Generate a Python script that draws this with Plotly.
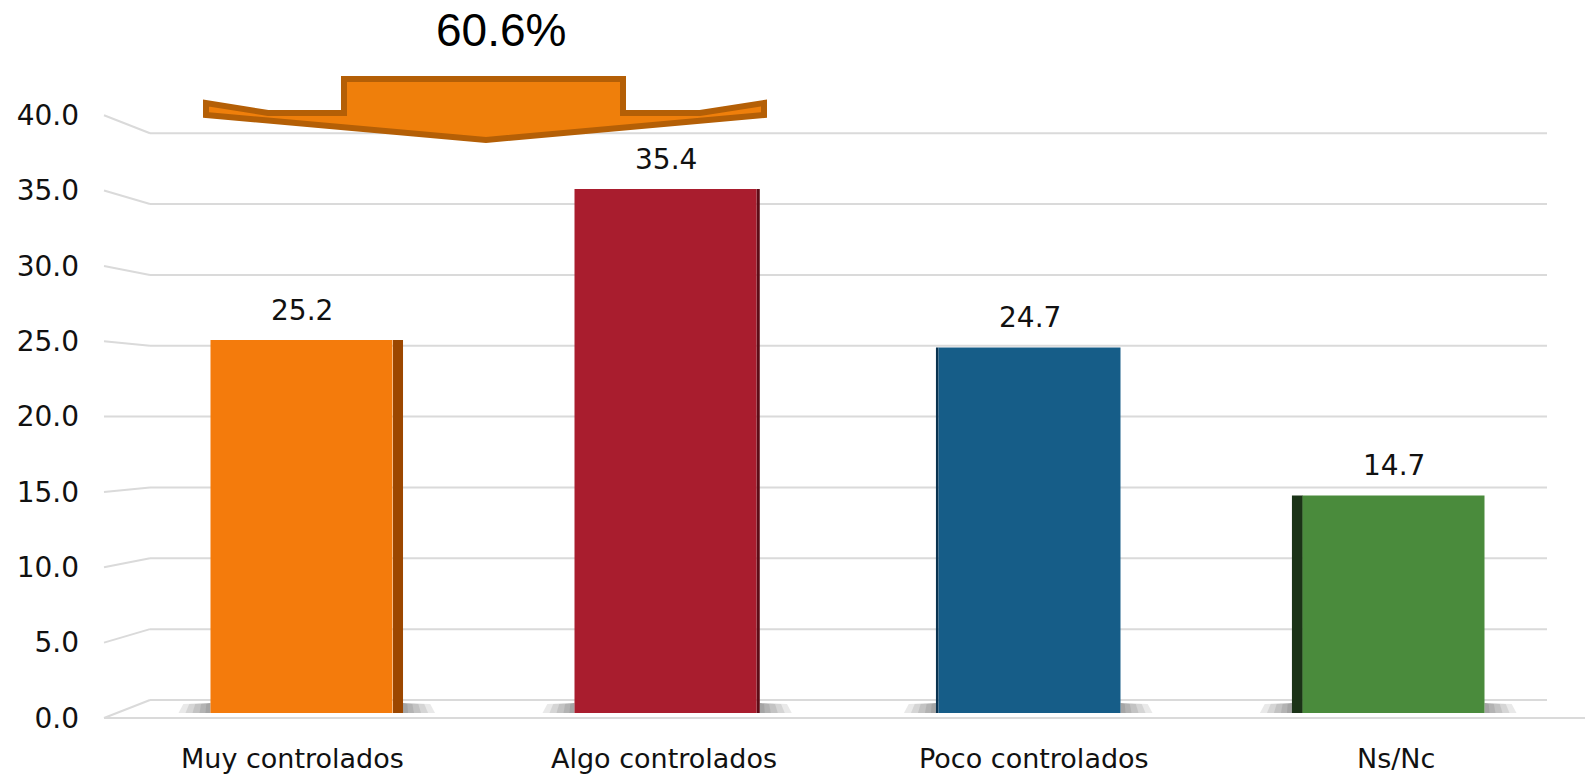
import plotly.graph_objects as go

# ---------------- data ----------------
categories = ["Muy controlados", "Algo controlados", "Poco controlados", "Ns/Nc"]
values = [25.2, 35.4, 24.7, 14.7]
y_ticks = [0, 5, 10, 15, 20, 25, 30, 35, 40]
total_label = "60.6%"

# ---------------- styles ----------------
face_colors = ["#F47B0C", "#A91D2E", "#165D88", "#4A8B3C"]
side_colors = ["#9C4700", "#5E0C16", "#0A3350", "#1B3317"]
side_offsets = [0.2514, 0.25, -0.257, -0.279]
side_widths = [0.0275, 0.009, 0.007, 0.030]
label_shift = [-9, -2, 4, 2]          # perspective shift of category labels (px)
GRID = "#DADADA"
FONT = "DejaVu Sans"

W, H = 1585, 775
UNIT_PX = 364.0   # pixels per category step


def px(x):
    return x / W


def py(y):
    return 1 - y / H


def axis_range(zero_px, ppu):
    r0 = -(H - zero_px) / ppu
    return [r0, r0 + H / ppu]


BAR_SCALE = (713, 14.8)     # baseline pixel, pixels per unit (bars)
BACK_SCALE = (700, 14.17)   # back wall gridlines
FRONT_SCALE = (718, 15.07)  # front edge / tick labels


def front_px(v):
    return FRONT_SCALE[0] - v * FRONT_SCALE[1]


def back_px(v):
    return BACK_SCALE[0] - v * BACK_SCALE[1]


fig = go.Figure()

# side faces (3D look)
fig.add_trace(go.Bar(
    x=categories, y=values, width=side_widths, offset=side_offsets,
    marker=dict(color=side_colors, line=dict(width=0)),
    hoverinfo="skip", showlegend=False,
))
# front faces
fig.add_trace(go.Bar(
    x=categories, y=values, width=0.5,
    marker=dict(color=face_colors, line=dict(width=0)),
    showlegend=False,
))
# invisible traces to activate the helper axes
fig.add_trace(go.Scatter(x=categories, y=values, yaxis="y2", mode="markers",
                         marker=dict(opacity=0), hoverinfo="skip", showlegend=False))
fig.add_trace(go.Scatter(x=categories, y=values, yaxis="y3", mode="markers",
                         marker=dict(opacity=0), hoverinfo="skip", showlegend=False))

shapes = []
for v in y_ticks:
    # back wall gridline
    shapes.append(dict(type="line", layer="below", xref="paper", yref="y2",
                       x0=px(150), x1=px(1547), y0=v, y1=v,
                       line=dict(color=GRID, width=2)))
    # side wall perspective segment
    shapes.append(dict(type="line", layer="below", xref="paper", yref="paper",
                       x0=px(104), y0=py(front_px(v)), x1=px(150), y1=py(back_px(v)),
                       line=dict(color=GRID, width=2)))
# floor front edge
shapes.append(dict(type="line", layer="below", xref="paper", yref="paper",
                   x0=px(104), x1=1, y0=py(front_px(0)), y1=py(front_px(0)),
                   line=dict(color=GRID, width=2)))

# soft floor shadows beside each bar base
for i in range(len(categories)):
    left = i + min(-0.25, side_offsets[i])
    right = i + max(0.25, side_offsets[i] + side_widths[i])
    for length in (32, 25, 18, 11, 5):
        d = length / UNIT_PX
        shapes.append(dict(type="path", layer="below", xref="x", yref="paper",
                           path=(f"M {left - d},{py(713)} L {left - d * 0.85},{py(704)} "
                                 f"L {left},{py(703)} L {left},{py(713)} Z"),
                           fillcolor="#3A3A3A", opacity=0.11, line=dict(width=0)))
        shapes.append(dict(type="path", layer="below", xref="x", yref="paper",
                           path=(f"M {right + d},{py(713)} L {right + d * 0.85},{py(704)} "
                                 f"L {right},{py(703)} L {right},{py(713)} Z"),
                           fillcolor="#3A3A3A", opacity=0.11, line=dict(width=0)))

# big arrow (callout)
arrow_pts = [(344, 79), (623, 79), (623, 113), (700, 113), (764, 103), (764, 115),
             (486, 140), (206, 115), (206, 103), (268, 113), (344, 113)]
path = "M " + " L ".join(f"{px(x):.5f},{py(y):.5f}" for x, y in arrow_pts) + " Z"
shapes.append(dict(type="path", xref="paper", yref="paper", path=path,
                   fillcolor="#EF7F0B", line=dict(color="#B45F06", width=6)))

annotations = []
for c, v in zip(categories, values):
    annotations.append(dict(x=c, y=v, xref="x", yref="y", text=f"{v:.1f}",
                            showarrow=False, yanchor="middle", yshift=30,
                            font=dict(family=FONT, size=28, color="#111111")))
for c, s in zip(categories, label_shift):
    annotations.append(dict(x=c, y=py(758), xref="x", yref="paper", text=c,
                            showarrow=False, yanchor="middle", xshift=s,
                            font=dict(family=FONT, size=27, color="#111111")))
annotations.append(dict(x=px(501), y=py(30), xref="paper", yref="paper",
                        text=total_label, showarrow=False,
                        xanchor="center", yanchor="middle",
                        font=dict(family="Liberation Sans", size=46, color="#000000")))

fig.update_layout(
    width=W, height=H,
    margin=dict(l=0, r=0, t=0, b=0),
    paper_bgcolor="white", plot_bgcolor="rgba(0,0,0,0)",
    barmode="overlay",
    showlegend=False,
    shapes=shapes,
    annotations=annotations,
    xaxis=dict(domain=[px(119.5), px(1575.5)], range=[-0.5, 3.5],
               anchor="free", position=py(738), showticklabels=False,
               showgrid=False, zeroline=False, showline=False, ticks=""),
    yaxis=dict(domain=[0, 1], range=axis_range(*BAR_SCALE), visible=False),
    yaxis2=dict(overlaying="y", range=axis_range(*BACK_SCALE), visible=False),
    yaxis3=dict(overlaying="y", range=axis_range(*FRONT_SCALE),
                anchor="free", position=px(79), side="left",
                tickvals=y_ticks, tickformat=".1f",
                showgrid=False, zeroline=False, showline=False, ticks="",
                tickfont=dict(family=FONT, size=28, color="#111111")),
)

fig.write_html("out.html", config={"displayModeBar": False},
               post_script="document.body.style.margin='0';document.body.style.overflow='hidden';")
